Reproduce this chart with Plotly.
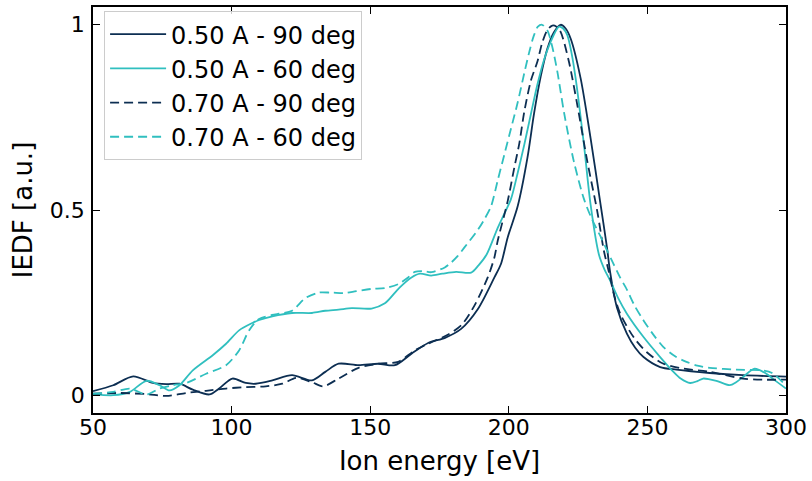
import plotly.graph_objects as go

# ---------------- data ----------------
labels = ["0.50 A - 90 deg", "0.50 A - 60 deg", "0.70 A - 90 deg", "0.70 A - 60 deg"]

e_a = [50, 57.3, 64.5, 71.6, 76.4, 81.2, 86, 92, 95.5, 100.3, 105.1, 108.7, 114.7, 121.8, 129,
       133.8, 138.6, 145.8, 152.9, 158.9, 164.9, 170.9, 177, 182.8, 188.8, 194.8, 197.2, 199.6,
       203.2, 206.7, 209.1, 211.5, 213.9, 216.3, 218.7, 220.5, 222.3, 225.9, 229.5, 233.1, 235.4,
       236.6, 239, 242.6, 245.6, 248.6, 254.6, 260.5, 272.5, 284.5, 300]
y_a = [0.011, 0.027, 0.051, 0.033, 0.030, 0.031, 0.015, 0.002, 0.018, 0.045, 0.033, 0.031, 0.040,
       0.054, 0.040, 0.063, 0.085, 0.081, 0.085, 0.081, 0.112, 0.141, 0.155, 0.179, 0.232, 0.318,
       0.355, 0.426, 0.51, 0.64, 0.76, 0.86, 0.935, 0.98, 1.0, 0.99, 0.963, 0.856, 0.694, 0.515,
       0.40, 0.33, 0.237, 0.166, 0.128, 0.103, 0.076, 0.069, 0.060, 0.054, 0.050]

e_b = [50, 57.3, 63.3, 69.3, 74, 77.6, 81.2, 86, 93.2, 98, 102.7, 107.5, 110, 114.7, 121.8, 129,
       133.8, 138.6, 143.4, 150.5, 155.3, 160.5, 164.9, 168, 172, 176, 181, 186.4, 189, 192, 196,
       198.4, 200.8, 203.2, 205.6, 208, 210.3, 212.7, 215.1, 218.1, 219.6, 221.1, 222.6, 224.1,
       227.1, 229.5, 232.5, 234.5, 236.6, 239.6, 242.6, 248.6, 254.6, 259.4, 262, 265.4, 268,
       270.1, 272.5, 274.9, 279.7, 282, 284.5, 288.7, 292.9, 296, 300]
y_b = [0.003, 0.0, 0.009, 0.039, 0.027, 0.013, 0.027, 0.067, 0.108, 0.139, 0.175, 0.195, 0.203,
       0.213, 0.222, 0.222, 0.228, 0.231, 0.235, 0.234, 0.248, 0.29, 0.318, 0.328, 0.323, 0.328,
       0.333, 0.331, 0.35, 0.38, 0.452, 0.49, 0.53, 0.60, 0.677, 0.76, 0.838, 0.905, 0.954, 0.995,
       0.99, 0.972, 0.925, 0.856, 0.677, 0.515, 0.38, 0.34, 0.309, 0.26, 0.22, 0.157, 0.103, 0.063,
       0.045, 0.033, 0.038, 0.045, 0.043, 0.039, 0.027, 0.035, 0.049, 0.072, 0.058, 0.04, 0.018]

e_c = [50, 59.7, 69.3, 76.4, 83.6, 90.8, 98, 105.1, 112.3, 118.3, 123.5, 129, 133, 138.6, 145.8,
       153, 160.1, 166.1, 172.1, 178, 183, 187.6, 192.4, 194.8, 196, 199.6, 202, 203.8, 205.6, 208,
       210.3, 212, 213.9, 215.7, 217.2, 218.7, 221.7, 224.7, 228.3, 231.9, 234.3, 236, 238, 240.2,
       245, 249.8, 255.8, 263, 272.5, 284.5, 291.6, 300]
y_c = [0.004, 0.006, 0.003, -0.002, 0.006, 0.012, 0.018, 0.022, 0.024, 0.031, 0.047, 0.035, 0.024,
       0.045, 0.074, 0.085, 0.090, 0.121, 0.143, 0.163, 0.19, 0.242, 0.318, 0.372, 0.417, 0.524,
       0.615, 0.68, 0.766, 0.85, 0.90, 0.95, 0.986, 0.998, 0.995, 0.981, 0.90, 0.784, 0.632, 0.497,
       0.39, 0.336, 0.27, 0.22, 0.157, 0.116, 0.085, 0.072, 0.063, 0.045, 0.042, 0.042]

e_d = [50, 57.3, 63.3, 69.3, 74, 78.8, 83.6, 90.8, 98, 102.7, 106.3, 109.9, 117.1, 121.8, 126.6,
       131.4, 136, 141, 145, 150.5, 155.3, 160.1, 163.7, 166.1, 169, 172.1, 176.9, 179.2, 181.6,
       184, 188.8, 191.2, 193.6, 196, 198.4, 200.8, 203.2, 205.6, 207.5, 209, 210.5, 212, 213.9,
       215.7, 217.5, 220, 223.5, 227.1, 230, 233, 235.5, 237.8, 240, 242.6, 245.5, 248.6, 252,
       255.8, 260, 264.1, 268, 272.5, 282, 291.6, 295, 300]
y_d = [0.004, 0.009, 0.018, 0.002, 0.018, 0.027, 0.033, 0.058, 0.081, 0.121, 0.175, 0.206, 0.22,
       0.228, 0.262, 0.277, 0.277, 0.276, 0.281, 0.287, 0.289, 0.30, 0.318, 0.333, 0.335, 0.332,
       0.345, 0.358, 0.376, 0.399, 0.446, 0.475, 0.51, 0.58, 0.65, 0.72, 0.79, 0.87, 0.93, 0.97,
       0.995, 1.0, 0.985, 0.94, 0.874, 0.76, 0.63, 0.53, 0.475, 0.43, 0.39, 0.354, 0.32, 0.285,
       0.24, 0.202, 0.165, 0.13, 0.105, 0.09, 0.08, 0.074, 0.069, 0.067, 0.06, 0.026]

x_ticks = [50, 100, 150, 200, 250, 300]
y_ticks = [0, 0.5, 1]
y_tick_text = ["0", "0.5", "1"]

# ---------------- styling ----------------
DARK = "#0c2e52"
TEAL = "#30bfbf"
FONT = "DejaVu Sans"
DASH = "9px,5px"

series = [
    (e_a, y_a, labels[0], DARK, "solid"),
    (e_b, y_b, labels[1], TEAL, "solid"),
    (e_c, y_c, labels[2], DARK, DASH),
    (e_d, y_d, labels[3], TEAL, DASH),
]

fig = go.Figure()
for xs, ys, name, col, dash in series:
    fig.add_trace(go.Scatter(
        x=xs, y=ys, name=name, mode="lines",
        line=dict(color=col, width=1.8, dash=dash, shape="spline", smoothing=0.8),
    ))

axis_common = dict(
    showline=True, linecolor="black", linewidth=1.5, mirror="ticks",
    ticks="inside", ticklen=7, tickwidth=1.3, tickcolor="black",
    showgrid=False, zeroline=False,
    tickfont=dict(family=FONT, size=22, color="black"),
)

fig.update_xaxes(
    range=[50, 300], tickvals=x_ticks, ticktext=[str(v) for v in x_ticks],
    title=dict(text="Ion energy [eV]", font=dict(family=FONT, size=26, color="black"), standoff=13),
    ticklabelstandoff=-6,
    **axis_common,
)
fig.update_yaxes(
    range=[-0.048, 1.048], tickvals=y_ticks, ticktext=y_tick_text,
    title=dict(text="IEDF [a.u.]", font=dict(family=FONT, size=26, color="black"), standoff=10),
    ticklabelstandoff=2,
    **axis_common,
)

fig.update_layout(
    width=812, height=481,
    margin=dict(l=93, r=22, t=5, b=68),
    paper_bgcolor="white", plot_bgcolor="white",
    font=dict(family=FONT, color="black"),
    showlegend=True,
    legend=dict(
        x=0.016, y=0.99, xanchor="left", yanchor="top",
        bgcolor="rgba(255,255,255,0.8)", bordercolor="#cccccc", borderwidth=1,
        font=dict(family=FONT, size=24, color="black"),
        itemwidth=56,
    ),
)

fig.write_html("out.html", config={"displayModeBar": False},
               post_script="document.body.style.margin='0';")
